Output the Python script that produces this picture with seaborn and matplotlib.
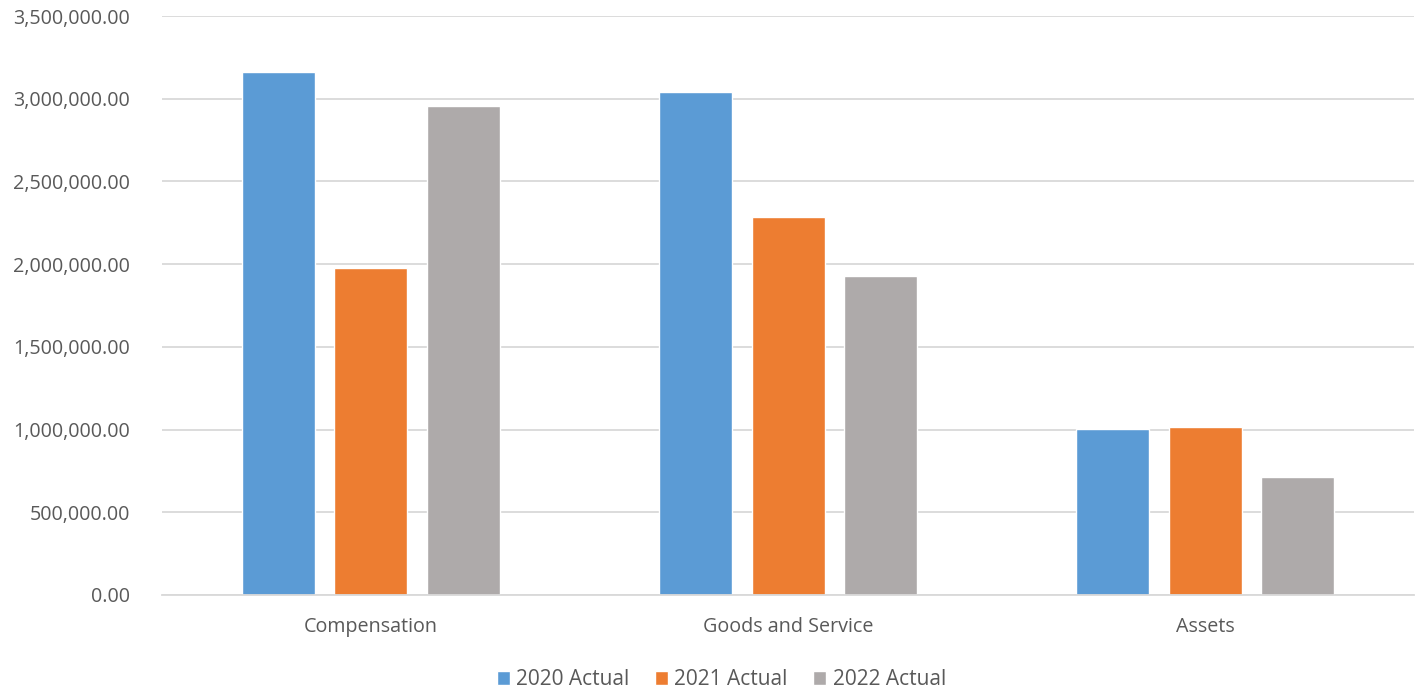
import matplotlib
matplotlib.use("Agg")
import matplotlib.pyplot as plt
import seaborn as sns
import pandas as pd
from matplotlib.ticker import FuncFormatter, MultipleLocator
from matplotlib.patches import Patch

categories = ["Compensation", "Goods and Service", "Assets"]
series = ["2020 Actual", "2021 Actual", "2022 Actual"]
values_2020 = [3160000, 3041000, 1002000]
values_2021 = [1977000, 2287000, 1014000]
values_2022 = [2955000, 1931000, 712000]
colors = ["#5B9BD5", "#ED7D31", "#AEAAAA"]

rows = []
for s, vals in zip(series, [values_2020, values_2021, values_2022]):
    for c, v in zip(categories, vals):
        rows.append({"Category": c, "Series": s, "Value": v})
df = pd.DataFrame(rows)

sns.set_style("white")
plt.rcParams["font.family"] = ["Open Sans", "DejaVu Sans"]

fig = plt.figure(figsize=(14.24, 6.98), dpi=100)
ax = fig.add_axes([0.1138, 0.1476, 0.8792, 0.8294])

sns.barplot(data=df, x="Category", y="Value", hue="Series", order=categories,
            hue_order=series, palette=colors, width=0.665, gap=0.21,
            saturation=1, ax=ax, legend=False, errorbar=None)

ax.set_xlim(-0.5, 2.5)
ax.set_ylim(0, 3500000)
ax.yaxis.set_major_locator(MultipleLocator(500000))
ax.yaxis.set_major_formatter(FuncFormatter(lambda v, p: f"{v:,.2f}"))
ax.grid(axis="y", color="#D9D9D9", linewidth=1.3)
ax.set_axisbelow(True)
for s in ["top", "right", "left"]:
    ax.spines[s].set_visible(False)
ax.spines["bottom"].set_color("#D9D9D9")
ax.spines["bottom"].set_linewidth(1.3)
ax.tick_params(axis="both", length=0, labelsize=14.2, labelcolor="#595959")
ax.tick_params(axis="y", pad=23)
ax.tick_params(axis="x", pad=16)
ax.set_xlabel("")
ax.set_ylabel("")

handles = [Patch(facecolor=c, label=s) for c, s in zip(colors, series)]
fig.legend(handles=handles, loc="lower center", bbox_to_anchor=(0.5065, -0.016),
           ncol=3, frameon=False, fontsize=15, labelcolor="#595959",
           handlelength=0.65, handleheight=0.65, handletextpad=0.3,
           columnspacing=1.2)

fig.savefig("out.png", dpi=100)
